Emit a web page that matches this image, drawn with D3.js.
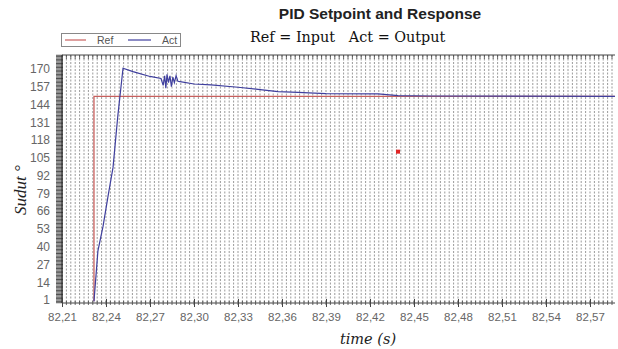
<!DOCTYPE html>
<html><head><meta charset="utf-8">
<script src="https://cdn.jsdelivr.net/npm/d3@7"></script>
<style>body{margin:0;background:#fff}svg{display:block}</style>
</head><body>
<svg id="c" width="618" height="349"></svg>
<script>
// ---- data ----
const xTickLabels = ["82,21","82,24","82,27","82,30","82,33","82,36","82,39","82,42","82,45","82,48","82,51","82,54","82,57"];
const xTickValues = [82.21,82.24,82.27,82.30,82.33,82.36,82.39,82.42,82.45,82.48,82.51,82.54,82.57];
const yTickValues = [1,14,27,40,53,66,79,92,105,118,131,144,157,170];
const refTime = [82.2318, 82.2318, 82.587];
const refValue = [0, 150, 150];
const actTime = [82.2318,82.2345,82.2380,82.2414,82.2448,82.2480,82.2516,82.2584,82.2700,82.2775,82.2790,82.2800,82.2808,82.2816,82.2826,82.2836,82.2846,82.2856,82.2866,82.2878,82.2890,82.2905,82.3000,82.3116,82.3300,82.3436,82.3573,82.3709,82.3900,82.4255,82.4391,82.4616,82.5870];
const actValue = [0,37,55,77,98,135,170.5,168,164.5,163,158,165,156,166,160,165,157,164,160,165,161,160.7,159,158.3,156.6,155.1,153.4,152.9,152,151.7,150.5,150.2,150];
const markTime = [82.4391];
const markValue = [109.5];

// ---- layout ----
const svg = d3.select("#c");
const L = 62, R = 615, T = 55, B = 303;
const x = d3.scaleLinear().domain([82.21, 82.21 + (R - L) / 44 * 0.03]).range([L, R]);
const y = d3.scaleLinear().domain([-1.2, 180.2]).range([B, T]);

// vertical dotted grid
const gridX = d3.range(0, 200).map(i => 82.21 + i * 0.003).filter(v => x(v) > L + 1 && x(v) <= R);
svg.append("g").selectAll("line").data(gridX).join("line")
  .attr("x1", d => x(d)).attr("x2", d => x(d)).attr("y1", T).attr("y2", B)
  .attr("stroke", "#8f8f8f").attr("stroke-width", 0.9).attr("stroke-dasharray", "2,1.5");

// lines
const refData = refTime.map((t, i) => [t, refValue[i]]);
const actData = actTime.map((t, i) => [t, actValue[i]]);
svg.append("path").datum(refData)
  .attr("d", d3.line().x(d => x(d[0])).y(d => y(d[1])))
  .attr("fill", "none").attr("stroke", "#c8605e").attr("stroke-width", 1.3);
svg.append("path").datum(actData)
  .attr("d", d3.line().x(d => x(d[0])).y(d => y(d[1])))
  .attr("fill", "none").attr("stroke", "#3f3f9e").attr("stroke-width", 1.2);

// top border with dense ticks
svg.append("line").attr("x1", L).attr("x2", R).attr("y1", T).attr("y2", T).attr("stroke", "#444").attr("stroke-width", 1);
svg.append("g").selectAll("line").data(gridX).join("line")
  .attr("x1", d => x(d)).attr("x2", d => x(d)).attr("y1", T).attr("y2", T + 4)
  .attr("stroke", "#444").attr("stroke-width", 0.8);

// y axis dense minor ticks
const yMinor = d3.range(-1, 181, 1);
svg.append("g").selectAll("line").data(yMinor).join("line")
  .attr("x1", L - 6).attr("x2", L + 1).attr("y1", d => y(d)).attr("y2", d => y(d))
  .attr("stroke", "#222").attr("stroke-width", 0.8);
svg.append("line").attr("x1", L).attr("x2", L).attr("y1", T).attr("y2", B).attr("stroke", "#222");

// y axis labels
const yAxis = d3.axisLeft(y).tickValues(yTickValues).tickSize(0).tickPadding(12);
const gy = svg.append("g").attr("transform", `translate(${L},0)`).call(yAxis);
gy.select(".domain").remove();
gy.selectAll("text").attr("font-family", "Liberation Sans, Arial, sans-serif").attr("font-size", 12).attr("fill", "#666");

// x axis
svg.append("line").attr("x1", L).attr("x2", R).attr("y1", B).attr("y2", B).attr("stroke", "#444").attr("stroke-width", 1.2);
svg.append("g").selectAll("line").data(gridX).join("line")
  .attr("x1", d => x(d)).attr("x2", d => x(d)).attr("y1", B - 2).attr("y2", B + 2)
  .attr("stroke", "#444").attr("stroke-width", 0.8);
const xAxis = d3.axisBottom(x).tickValues(xTickValues).tickFormat((d, i) => xTickLabels[i]).tickSize(4).tickPadding(6);
const gx = svg.append("g").attr("transform", `translate(0,${B})`).call(xAxis);
gx.select(".domain").remove();
gx.selectAll("line").attr("stroke", "#444").attr("y1", -4);
gx.selectAll("text").attr("font-family", "Liberation Sans, Arial, sans-serif").attr("font-size", 11.5).attr("fill", "#666");

// stray marker
svg.append("g").selectAll("rect").data(markTime.map((t, i) => [t, markValue[i]])).join("rect")
  .attr("x", d => x(d[0]) - 2).attr("y", d => y(d[1]) - 2).attr("width", 4).attr("height", 4)
  .attr("fill", "#e02424");

// title and subtitle
svg.append("text").attr("x", 380).attr("y", 19).attr("text-anchor", "middle")
  .attr("font-family", "Liberation Sans, Arial, sans-serif").attr("font-weight", "bold").attr("font-size", 15.5).attr("fill", "#222")
  .text("PID Setpoint and Response");
svg.append("text").attr("x", 250).attr("y", 42)
  .attr("font-family", "DejaVu Serif, serif").attr("font-size", 14.4).attr("fill", "#111")
  .attr("xml:space", "preserve").style("white-space", "pre")
  .text("Ref = Input   Act = Output");

// legend
const lg = svg.append("g");
lg.append("rect").attr("x", 61.5).attr("y", 33.5).attr("width", 119).attr("height", 13).attr("fill", "#fff").attr("stroke", "#888");
lg.append("line").attr("x1", 65).attr("x2", 86).attr("y1", 40).attr("y2", 40).attr("stroke", "#c8605e").attr("stroke-width", 1.2);
lg.append("text").attr("x", 97).attr("y", 44).attr("font-family", "Liberation Sans, Arial, sans-serif").attr("font-size", 10.5).attr("fill", "#555").text("Ref");
lg.append("line").attr("x1", 128).attr("x2", 151).attr("y1", 40).attr("y2", 40).attr("stroke", "#3f3f9e").attr("stroke-width", 1.2);
lg.append("text").attr("x", 162).attr("y", 44).attr("font-family", "Liberation Sans, Arial, sans-serif").attr("font-size", 10.5).attr("fill", "#555").text("Act");

// axis titles
svg.append("text").attr("transform", "translate(26,190) rotate(-90)").attr("text-anchor", "middle")
  .attr("font-family", "Liberation Serif, serif").attr("font-style", "italic").attr("font-size", 17).attr("fill", "#222")
  .text("Sudut °");
svg.append("text").attr("x", 368).attr("y", 344).attr("text-anchor", "middle")
  .attr("font-family", "DejaVu Serif, serif").attr("font-style", "italic").attr("font-size", 14.5).attr("fill", "#222")
  .text("time (s)");
</script>
</body></html>
